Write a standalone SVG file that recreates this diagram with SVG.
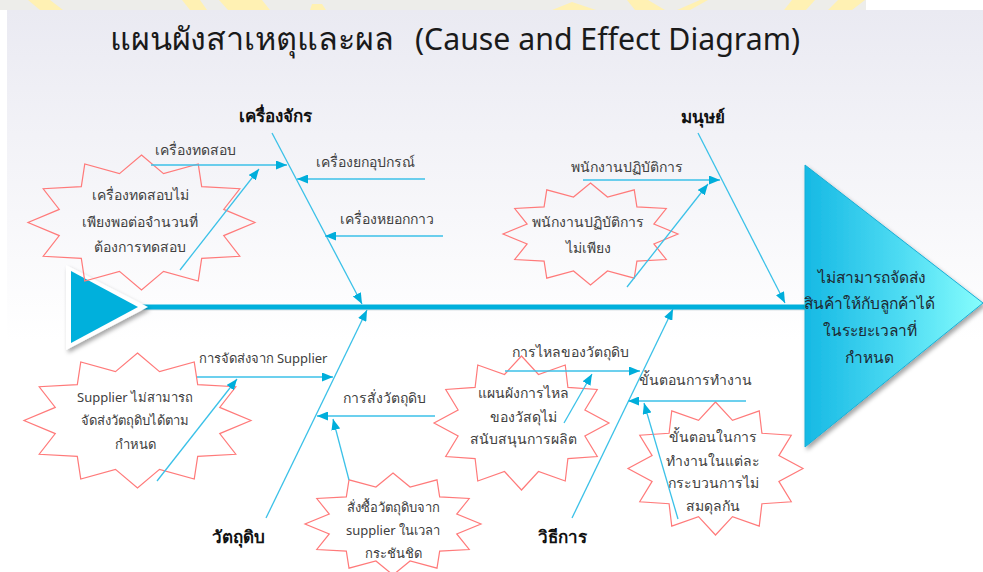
<svg xmlns="http://www.w3.org/2000/svg" width="983" height="572" viewBox="0 0 983 572">
  <defs>
    <linearGradient id="bg" x1="0" y1="10" x2="0" y2="340" gradientUnits="userSpaceOnUse">
      <stop offset="0" stop-color="#EAEAF2"/>
      <stop offset="1" stop-color="#FFFFFF"/>
    </linearGradient>
    <linearGradient id="headFill" x1="0" y1="0" x2="1" y2="0">
      <stop offset="0" stop-color="#16B9E4"/>
      <stop offset="0.55" stop-color="#4FDCF3"/>
      <stop offset="1" stop-color="#86FDFD"/>
    </linearGradient>
    <filter id="shadow" x="-20%" y="-20%" width="140%" height="140%">
      <feDropShadow dx="2" dy="3" stdDeviation="2" flood-color="#000" flood-opacity="0.35"/>
    </filter>
    <marker id="ah" viewBox="0 0 11 9" refX="11" refY="4.5" markerWidth="11" markerHeight="9" markerUnits="userSpaceOnUse" orient="auto">
      <path d="M0,0 L11,4.5 L0,9 Z" fill="#00AEDB"/>
    </marker>
    <!-- unit 12-point star, scaled per callout; stroke stays 1.2px -->
    <path id="star12" fill="none" stroke="#FF7A7A" stroke-width="1.2" vector-effect="non-scaling-stroke" d="M0,-1 L0.1941,-0.7244 L0.5,-0.866 L0.5303,-0.5303 L0.866,-0.5 L0.7244,-0.1941 L1,0 L0.7244,0.1941 L0.866,0.5 L0.5303,0.5303 L0.5,0.866 L0.1941,0.7244 L0,1 L-0.1941,0.7244 L-0.5,0.866 L-0.5303,0.5303 L-0.866,0.5 L-0.7244,0.1941 L-1,0 L-0.7244,-0.1941 L-0.866,-0.5 L-0.5303,-0.5303 L-0.5,-0.866 L-0.1941,-0.7244 Z"/>
  </defs>
  <style>
    text { font-family: "Noto Sans", "DejaVu Sans", sans-serif; }
    .title { font-size: 31px; fill: #1A1A1A; }
    .cat { font-size: 17px; font-weight: bold; fill: #111; text-anchor: middle; }
    .sub { font-size: 14px; fill: #404040; text-anchor: middle; }
    .sub-s { font-size: 13px; fill: #404040; text-anchor: middle; }
    .note { font-size: 14px; fill: #404040; text-anchor: middle; }
    .note-s { font-size: 13px; fill: #404040; text-anchor: middle; }
    .head-t { font-size: 15.5px; fill: #1E2A33; text-anchor: middle; }
    .bone { stroke: #3BC1E8; stroke-width: 1.3; fill: none; marker-end: url(#ah); }
    .deco { fill: #FFF1B3; }
  </style>

  <!-- page strip and slide background -->
  <rect x="0" y="0" width="983" height="572" fill="#FFFFFF"/>
  <rect x="0" y="0" width="866" height="10" fill="#EDEDEA"/>
  <g id="banner">
    <polygon class="deco" points="28,0 50,0 63,10 40,10"/>
    <polygon class="deco" points="182,0 200,0 207,10 190,10"/>
    <polygon class="deco" points="219,0 262,0 270,10 228,10"/>
    <polygon class="deco" points="312,4 322,4 326,10 310,10"/>
    <polygon class="deco" points="552,10 572,2 596,10"/>
    <polygon class="deco" points="627,0 648,0 665,10 635,10"/>
    <polygon class="deco" points="677,10 700,0 708,0 690,10"/>
    <polygon class="deco" points="792,0 815,0 806,10 784,10"/>
    <polygon class="deco" points="838,0 865,0 852,10 828,10"/>
  </g>
  <rect x="7" y="10" width="976" height="562" fill="url(#bg)"/>

  <!-- title -->
  <g id="title">
    <text class="title" x="110" y="50" textLength="284" lengthAdjust="spacingAndGlyphs">แผนผังสาเหตุและผล</text>
    <text class="title" x="415" y="50" textLength="385" lengthAdjust="spacingAndGlyphs">(Cause and Effect Diagram)</text>
  </g>

  <!-- spine, tail and head -->
  <g id="spine">
    <line x1="140" y1="309" x2="806" y2="309" stroke="#9AA8B0" stroke-width="3" opacity="0.35"/>
    <line x1="140" y1="307" x2="806" y2="307" stroke="#00B0DC" stroke-width="5"/>
    <polygon points="66,265 148,307 66,350" fill="#FFFFFF" filter="url(#shadow)"/>
    <polygon points="71,271 138,307 71,343" fill="#00B0DC"/>
  </g>
  <g id="effect">
    <polygon points="805,165 983,303 805,447" fill="url(#headFill)" stroke="#19AED6" stroke-width="1" filter="url(#shadow)"/>
    <text class="head-t" x="872" y="283">ไม่สามารถจัดส่ง</text>
    <text class="head-t" x="869" y="309">สินค้าให้กับลูกค้าได้</text>
    <text class="head-t" x="870" y="336">ในระยะเวลาที่</text>
    <text class="head-t" x="869" y="363">กำหนด</text>
  </g>

  <!-- callout stars -->
  <g id="note-tester">
    <use href="#star12" transform="translate(141.5,222.5) scale(113.5,67.5)"/>
    <text class="note" x="140" y="200">เครื่องทดสอบไม่</text>
    <text class="note" x="140" y="227">เพียงพอต่อจำนวนที่</text>
    <text class="note" x="140" y="252">ต้องการทดสอบ</text>
  </g>
  <g id="note-staff">
    <use href="#star12" transform="translate(590.5,234) scale(87.5,51)"/>
    <text class="note" x="588" y="227">พนักงานปฏิบัติการ</text>
    <text class="note" x="588" y="253">ไม่เพียง</text>
  </g>
  <g id="note-supplier">
    <use href="#star12" transform="translate(137.5,420.5) scale(113.5,67.5)"/>
    <text class="note-s" x="135" y="402">Supplier ไม่สามารถ</text>
    <text class="note-s" x="135" y="425">จัดส่งวัตถุดิบได้ตาม</text>
    <text class="note-s" x="135" y="449">กำหนด</text>
  </g>
  <g id="note-order">
    <use href="#star12" transform="translate(393,524) scale(88,51)"/>
    <text class="note-s" x="393" y="512">สั่งซื้อวัตถุดิบจาก</text>
    <text class="note-s" x="393" y="535">supplier ในเวลา</text>
    <text class="note-s" x="393" y="558">กระชันชิด</text>
  </g>
  <g id="note-flow">
    <use href="#star12" transform="translate(521.5,423) scale(87.5,67)"/>
    <text class="note" x="523" y="398">แผนผังการไหล</text>
    <text class="note" x="523" y="422">ของวัสดุไม่</text>
    <text class="note" x="523" y="444">สนับสนุนการผลิต</text>
  </g>
  <g id="note-steps">
    <use href="#star12" transform="translate(715.5,468.5) scale(87.5,66.5)"/>
    <text class="note" x="713" y="442">ขั้นตอนในการ</text>
    <text class="note" x="713" y="466">ทำงานในแต่ละ</text>
    <text class="note" x="713" y="488">กระบวนการไม่</text>
    <text class="note" x="713" y="511">สมดุลกัน</text>
  </g>

  <!-- category labels -->
  <g id="cat-machine"><text class="cat" x="275" y="122">เครื่องจักร</text></g>
  <g id="cat-man"><text class="cat" x="703" y="123">มนุษย์</text></g>
  <g id="cat-material"><text class="cat" x="238" y="543">วัตถุดิบ</text></g>
  <g id="cat-method"><text class="cat" x="562" y="543">วิธีการ</text></g>

  <!-- cause labels -->
  <g id="causes">
    <text class="sub" x="195" y="155">เครื่องทดสอบ</text>
    <text class="sub" x="365" y="167">เครื่องยกอุปกรณ์</text>
    <text class="sub" x="387" y="224">เครื่องหยอกกาว</text>
    <text class="sub" x="627" y="172">พนักงานปฏิบัติการ</text>
    <text class="sub-s" x="263" y="363">การจัดส่งจาก Supplier</text>
    <text class="sub" x="384" y="403">การสั่งวัตถุดิบ</text>
    <text class="sub" x="570" y="357">การไหลของวัตถุดิบ</text>
    <text class="sub" x="695" y="385">ขั้นตอนการทำงาน</text>
  </g>

  <!-- connectors -->
  <g id="connectors">
    <line class="bone" x1="272" y1="133" x2="362" y2="304"/>
    <line class="bone" x1="698" y1="133" x2="785" y2="303"/>
    <line class="bone" x1="266" y1="518" x2="367" y2="310"/>
    <line class="bone" x1="572" y1="518" x2="673" y2="309"/>
    <line class="bone" x1="151" y1="165" x2="287" y2="165"/>
    <line class="bone" x1="425" y1="179" x2="297" y2="179"/>
    <line class="bone" x1="443" y1="236" x2="325" y2="236"/>
    <line class="bone" x1="180" y1="270" x2="259" y2="169"/>
    <line class="bone" x1="583" y1="180" x2="720" y2="180"/>
    <line class="bone" x1="627" y1="287" x2="708" y2="184"/>
    <line class="bone" x1="197" y1="377" x2="333" y2="377"/>
    <line class="bone" x1="157" y1="481" x2="237" y2="379"/>
    <line class="bone" x1="435" y1="416" x2="317" y2="416"/>
    <line class="bone" x1="349" y1="480" x2="333" y2="419"/>
    <line class="bone" x1="505" y1="371" x2="640" y2="371"/>
    <line class="bone" x1="564" y1="423" x2="592" y2="374"/>
    <line class="bone" x1="746" y1="401" x2="628" y2="401"/>
    <line class="bone" x1="678" y1="519" x2="644" y2="403"/>
  </g>
</svg>
